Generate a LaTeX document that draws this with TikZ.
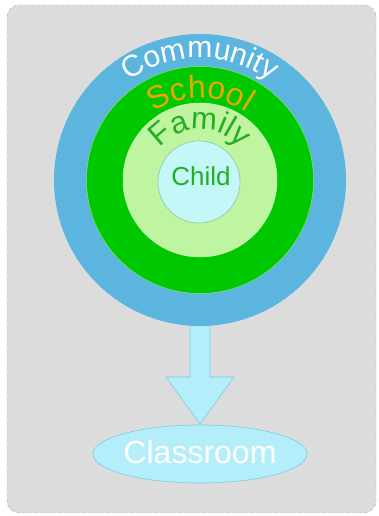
\documentclass[tikz,border=0pt]{standalone}
\usepackage{fontspec}
\setmainfont{Liberation Sans}
\usetikzlibrary{decorations.text,shapes.geometric}
\definecolor{bgc}{HTML}{DCDCDC}
\definecolor{bgb}{HTML}{A8A8A8}
\definecolor{ringblue}{HTML}{5BB5DE}
\definecolor{ringdark}{HTML}{00C800}
\definecolor{ringlight}{HTML}{BFF5A0}
\definecolor{childc}{HTML}{C4F8F8}
\definecolor{cyanf}{HTML}{B3EEFA}
\definecolor{cyanb}{HTML}{7CCBE6}
\definecolor{schoolc}{HTML}{E8A800}
\definecolor{famc}{HTML}{22B022}
\tikzset{
  ring/.style={circle,inner sep=0pt,minimum size=#1},
  arctext/.style={decorate,decoration={text along path,text align=center}}
}
\begin{document}
\begin{tikzpicture}[x=1pt,y=1pt]
\useasboundingbox (0,0) rectangle (379,516);
\node[draw=bgb,dashed,fill=bgc,rounded corners=12pt,minimum width=369pt,minimum height=508pt,inner sep=0pt] (bg) at (191.5,257) {};
% arrow
\coordinate (atop) at (200,200);
\draw[draw=cyanb,fill=cyanf,line width=0.6pt] (190,200) -- (190,139) -- (166,139) -- (200,92) -- (234,139) -- (210,139) -- (210,200) -- cycle;
\node[ellipse,draw=cyanb,fill=cyanf,line width=0.6pt,minimum width=214pt,minimum height=58pt,inner sep=0pt] (classroom) at (200,62) {};
\node[text=white,font=\fontsize{32}{32}\selectfont] (classtxt) at (200,64) {Classroom};
% rings
\node[ring=292pt,fill=ringblue] (community) at (200,336) {};
\node[ring=227pt,fill=ringdark,draw=ringlight!70!ringdark,line width=0.5pt] (school) at (200,336) {};
\node[ring=154pt,fill=ringlight,draw=ringlight!80!white,line width=0.5pt] (family) at (200,336) {};
\node[ring=82pt,fill=childc,draw=famc!30!childc!70!gray,line width=0.6pt] (child) at (199,334) {};
\node[text=famc,font=\fontsize{26}{26}\selectfont] (childtxt) at (201,340) {Child};
% curved labels
\path[arctext,decoration={text={|\fontsize{30}{30}\selectfont\color{white}|Community}}]
  (200,336) ++(160:122) arc[start angle=160,end angle=20,radius=122];
\path[arctext,decoration={text={|\fontsize{32}{32}\selectfont\color{schoolc}|School}}]
  (200,336) ++(170:82) arc[start angle=170,end angle=10,radius=82];
\path[arctext,decoration={text={|\fontsize{31}{31}\selectfont\color{famc}|Family}}]
  (200,336) ++(179:51) arc[start angle=179,end angle=1,radius=51];
\end{tikzpicture}
\end{document}
